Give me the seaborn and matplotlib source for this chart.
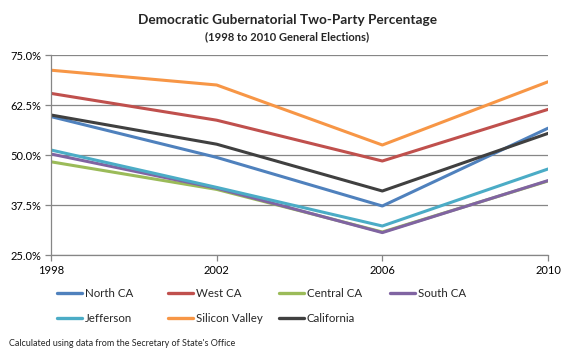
import matplotlib
matplotlib.use("Agg")
import matplotlib.pyplot as plt
import seaborn as sns
import pandas as pd
from matplotlib.ticker import FuncFormatter
from matplotlib.lines import Line2D

years = [1998, 2002, 2006, 2010]
regions = ["North CA", "West CA", "Central CA", "South CA", "Jefferson", "Silicon Valley", "California"]
north_ca = [59.6, 49.4, 37.25, 56.7]
west_ca = [65.4, 58.7, 48.5, 61.4]
central_ca = [48.3, 41.4, 30.75, 43.5]
south_ca = [50.25, 41.7, 30.6, 43.6]
jefferson = [51.25, 41.9, 32.25, 46.5]
silicon_valley = [71.2, 67.5, 52.5, 68.3]
california = [60.0, 52.7, 41.0, 55.4]
yticks = [25.0, 37.5, 50.0, 62.5, 75.0]

colors = ["#4F81BD", "#C0504D", "#9BBB59", "#8064A2", "#4BACC6", "#F79646", "#404040"]

series = [north_ca, west_ca, central_ca, south_ca, jefferson, silicon_valley, california]
rows = []
for r, vals in zip(regions, series):
    for y, v in zip(years, vals):
        rows.append({"year": y, "pct": v, "region": r})
df = pd.DataFrame(rows)

sns.set_theme(style="white")
plt.rcParams["font.family"] = ["Lato", "DejaVu Sans"]

fig = plt.figure(figsize=(5.74, 3.54), dpi=100)
ax = fig.add_axes([51/574, 1-255/354, (548-51)/574, (255-55)/354])

sns.lineplot(data=df, x="year", y="pct", hue="region", hue_order=regions,
             palette=dict(zip(regions, colors)), linewidth=2.2, legend=False, ax=ax)

ax.set_xlim(1998, 2010)
ax.set_ylim(25, 75)
ax.set_xticks(years)
ax.set_xticklabels([str(y) for y in years])
ax.set_yticks(yticks)
ax.yaxis.set_major_formatter(FuncFormatter(lambda v, p: f"{v:.1f}%"))
ax.grid(axis="y", color="#868686", linewidth=0.9)
ax.set_axisbelow(True)
for s in ["top", "right"]:
    ax.spines[s].set_visible(False)
for s in ["left", "bottom"]:
    ax.spines[s].set_color("#868686")
    ax.spines[s].set_linewidth(0.9)
ax.tick_params(axis="both", which="major", length=4, width=0.9, color="#868686",
               labelsize=8, labelcolor="black", direction="out", pad=3, bottom=True, left=True)
ax.set_xlabel("")
ax.set_ylabel("")

fig.text(0.5, 1-20/354, "Democratic Gubernatorial Two-Party Percentage", ha="center", va="center",
         fontsize=9.8, fontweight="bold")
fig.text(0.5, 1-37/354, "(1998 to 2010 General Elections)", ha="center", va="center",
         fontsize=8, fontweight="bold")

handles = [Line2D([0], [0], color=c, linewidth=2.4) for c in colors]
col_x = [57, 168, 279, 390]
rows_of = [[0, 4], [1, 5], [2, 6], [3]]
for cx, idxs in zip(col_x, rows_of):
    lg = fig.legend([handles[i] for i in idxs], [regions[i] for i in idxs],
                    loc="upper left", bbox_to_anchor=(cx/574, 1-288/354), frameon=False,
                    fontsize=8.3, handlelength=2.2, handletextpad=0.2, labelspacing=1.25,
                    borderpad=0, borderaxespad=0)

fig.text(9/574, 1-344/354, "Calculated using data from the Secretary of State's Office",
         ha="left", va="center", fontsize=6.5)

fig.savefig("out.png", dpi=100)
